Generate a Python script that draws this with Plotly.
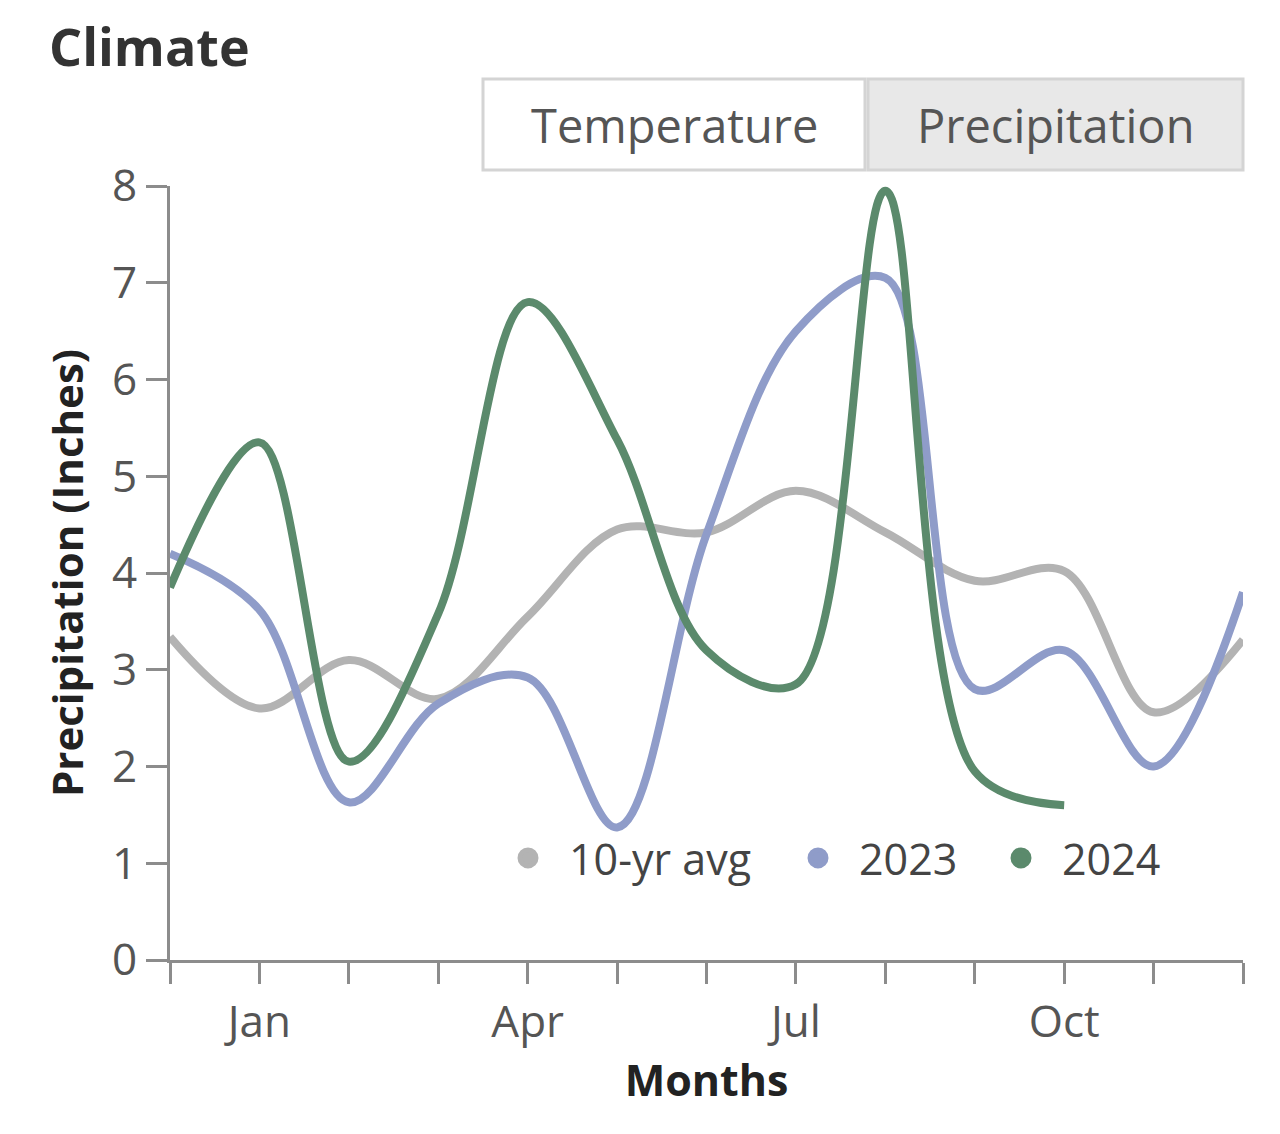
import plotly.graph_objects as go

# ---- data ----
month_idx = list(range(13))
month_labels = ["Dec", "Jan", "Feb", "Mar", "Apr", "May", "Jun",
                "Jul", "Aug", "Sep", "Oct", "Nov", "Dec"]
shown_labels = ["Jan", "Apr", "Jul", "Oct"]

avg_10yr = [3.34, 2.6, 3.1, 2.7, 3.55, 4.45, 4.42, 4.85, 4.42, 3.92, 4.02, 2.56, 3.31]
y2023 = [4.2, 3.62, 1.63, 2.65, 2.92, 1.37, 4.4, 6.5, 7.05, 2.8, 3.2, 2.0, 3.8]
y2024 = [3.85, 5.35, 2.05, 3.58, 6.8, 5.38, 3.2, 2.85, 7.95, 1.95, 1.6]

series_names = ["10-yr avg", "2023", "2024"]
series_colors = ["#b3b3b3", "#8f9cc9", "#5b8a6c"]
series_values = [avg_10yr, y2023, y2024]

FONT = "Open Sans"
OFF = 8  # page body margin
W, H = 1264, 1118


def fx(page_px):
    return page_px - OFF


L = fx(170)
R = W - fx(1243)
T = fx(186)
B = H - fx(960)
PW, PH = W - L - R, H - T - B


def px_x(p):  # page px -> paper x
    return (fx(p) - L) / PW


def px_y(p):  # page px -> paper y
    return (H - B - fx(p)) / PH


fig = go.Figure()
legend_ids = ["legend", "legend2", "legend3"]
legend_left = [487, 777, 980]
for name, color, vals, lid in zip(series_names, series_colors, series_values, legend_ids):
    fig.add_trace(go.Scatter(
        x=month_idx[:len(vals)], y=vals, mode="lines", name=name,
        line=dict(color=color, width=8, shape="spline", smoothing=1.0),
        showlegend=False, hoverinfo="x+y"))
    fig.add_trace(go.Scatter(
        x=[None], y=[None], mode="markers", name=name,
        marker=dict(color=color, size=16, symbol="circle",
                    line=dict(color=color, width=5)),
        showlegend=True, legend=lid))

ticktext = [m if (m in shown_labels and i not in (0, 12)) else "" for i, m in enumerate(month_labels)]

legend_common = dict(orientation="h", xanchor="left", yanchor="middle",
                     bgcolor="rgba(0,0,0,0)", itemwidth=72,
                     font=dict(size=43, color="#444444", family=FONT))
legends = {}
for lid, left in zip(legend_ids, legend_left):
    legends[lid] = dict(legend_common, x=px_x(left), y=px_y(858))

fig.update_layout(
    width=W, height=H,
    margin=dict(l=L, r=R, t=T, b=B),
    paper_bgcolor="white", plot_bgcolor="white",
    font=dict(family=FONT, color="#555555", size=40),
    title=dict(text="<b>Climate</b>", x=fx(49) / W, xanchor="left",
               y=1 - fx(48) / H, yanchor="middle",
               font=dict(family=FONT, size=52, color="#333333")),
    xaxis=dict(range=[0, 12], tickmode="array", tickvals=month_idx,
               ticktext=ticktext, showgrid=False, zeroline=False,
               showline=True, linecolor="#8c8c8c", linewidth=3,
               ticks="outside", ticklen=21, tickwidth=3, tickcolor="#8c8c8c",
               tickfont=dict(size=44, color="#555555"),
               title=dict(text="<b>Months</b>", standoff=8,
                          font=dict(size=43, color="#222222"))),
    yaxis=dict(range=[0, 8], tickmode="linear", tick0=0, dtick=1,
               showgrid=False, zeroline=False,
               showline=True, linecolor="#8c8c8c", linewidth=3,
               ticks="outside", ticklen=21, tickwidth=3, tickcolor="#8c8c8c",
               tickfont=dict(size=44, color="#555555"),
               title=dict(text="<b>Precipitation (Inches)</b>", standoff=16,
                          font=dict(size=42, color="#222222"))),
    **legends,
)

# Toggle buttons (UI decoration)
btns = [("Temperature", 483, 865, "white"), ("Precipitation", 868, 1243, "#e8e8e8")]
for text, x0, x1, bg in btns:
    fig.add_shape(type="rect", xref="paper", yref="paper",
                  x0=px_x(x0), x1=px_x(x1), y0=px_y(170), y1=px_y(79),
                  fillcolor=bg, line=dict(color="#d4d4d4", width=3), layer="above")
    fig.add_annotation(text=text, xref="paper", yref="paper",
                       x=px_x((x0 + x1) / 2), y=px_y(125), showarrow=False,
                       xanchor="center", yanchor="middle",
                       font=dict(family=FONT, size=47, color="#555555"))

fig.write_html("out.html")
